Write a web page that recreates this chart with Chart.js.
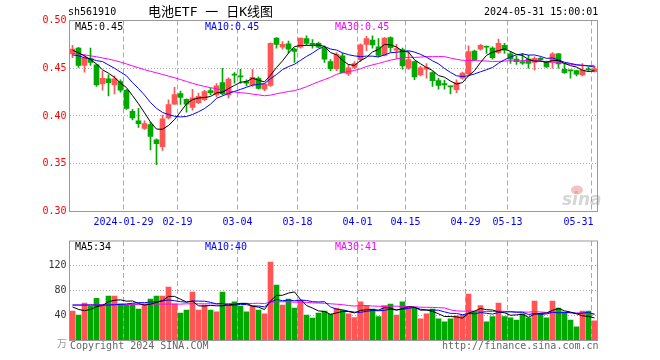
<!DOCTYPE html>
<html>
<head>
<meta charset="utf-8">
<script src="https://cdn.jsdelivr.net/npm/chart.js@4.4.1/dist/chart.umd.min.js"></script>
<style>
body { margin: 0; background: #fff; }
#wrap { position: relative; width: 660px; height: 360px; overflow: hidden; font-family: "DejaVu Sans Mono", monospace; font-size: 10px; }
canvas { position: absolute; left: 0; }
.t { position: absolute; white-space: pre; line-height: 12px; }
</style>
</head>
<body>
<div id="wrap">
  <canvas id="kChart" width="660" height="232" style="top:0"></canvas>
  <canvas id="volChart" width="660" height="128" style="top:232px"></canvas>

  <div class="t" style="left:68px;top:6px;color:#000">sh561910</div>
  <div class="t" style="left:148px;top:4px;font-size:13px;line-height:16px;font-family:'DejaVu Sans Mono','Noto Sans CJK SC'">电池ETF 一 日K线图</div>
  <div class="t" style="left:484px;top:6px;color:#000">2024-05-31 15:00:01</div>

  <div class="t" style="left:75px;top:21px;color:#000">MA5:0.45</div>
  <div class="t" style="left:205px;top:21px;color:#0000ff">MA10:0.45</div>
  <div class="t" style="left:335px;top:21px;color:#ff00ff">MA30:0.45</div>

  <div class="t" style="left:75px;top:241px;color:#000">MA5:34</div>
  <div class="t" style="left:205px;top:241px;color:#0000ff">MA10:40</div>
  <div class="t" style="left:335px;top:241px;color:#ff00ff">MA30:41</div>

  <div class="t" style="left:57px;top:337px;color:#999;font-family:'Noto Sans CJK SC'">万</div>
  <div class="t" style="left:70px;top:340px;color:#666">Copyright 2024 SINA.COM</div>
  <div class="t" style="left:442px;top:340px;color:#666">http://finance.sina.com.cn</div>
</div>

<script>
// trading days shown (2024)
const dates = [
  '2024-01-16','2024-01-17','2024-01-18','2024-01-19','2024-01-22','2024-01-23','2024-01-24','2024-01-25','2024-01-26','2024-01-29','2024-01-30','2024-01-31',
  '2024-02-01','2024-02-02','2024-02-05','2024-02-06','2024-02-07','2024-02-08','2024-02-19','2024-02-20','2024-02-21','2024-02-22','2024-02-23','2024-02-26','2024-02-27','2024-02-28','2024-02-29',
  '2024-03-01','2024-03-04','2024-03-05','2024-03-06','2024-03-07','2024-03-08','2024-03-11','2024-03-12','2024-03-13','2024-03-14','2024-03-15','2024-03-18','2024-03-19','2024-03-20','2024-03-21','2024-03-22','2024-03-25','2024-03-26','2024-03-27','2024-03-28','2024-03-29',
  '2024-04-01','2024-04-02','2024-04-03','2024-04-08','2024-04-09','2024-04-10','2024-04-11','2024-04-12','2024-04-15','2024-04-16','2024-04-17','2024-04-18','2024-04-19','2024-04-22','2024-04-23','2024-04-24','2024-04-25','2024-04-26','2024-04-29','2024-04-30',
  '2024-05-06','2024-05-07','2024-05-08','2024-05-09','2024-05-10','2024-05-13','2024-05-14','2024-05-15','2024-05-16','2024-05-17','2024-05-20','2024-05-21','2024-05-22','2024-05-23','2024-05-24','2024-05-27','2024-05-28','2024-05-29','2024-05-30','2024-05-31'
];

const opens = [
  0.465,0.471,0.453,0.460,0.4535,0.4335,0.439,0.4325,0.436,0.427,
  0.405,0.395,0.387,0.391,0.375,0.368,0.398,0.4125,0.4235,0.4175,
  0.409,0.414,0.417,0.4265,0.422,0.435,0.422,0.4432,0.4415,0.436,
  0.4325,0.4395,0.428,0.432,0.4815,0.472,0.4755,0.470,0.472,0.481,
  0.4757,0.476,0.471,0.457,0.4495,0.463,0.444,0.451,0.459,0.475,
  0.4795,0.4725,0.4635,0.482,0.469,0.4695,0.450,0.457,0.443,0.449,
  0.4455,0.437,0.434,0.431,0.4275,0.4395,0.444,0.468,0.470,0.473,
  0.471,0.4665,0.474,0.465,0.4595,0.457,0.4595,0.456,0.4605,0.457,
  0.456,0.465,0.449,0.4478,0.4475,0.443,0.4492,0.4465
];
const highs = [
  0.474,0.472,0.464,0.471,0.454,0.447,0.443,0.442,0.438,0.428,
  0.407,0.408,0.395,0.3935,0.376,0.401,0.417,0.430,0.426,0.418,
  0.428,0.424,0.427,0.429,0.434,0.450,0.440,0.4455,0.449,0.4378,
  0.449,0.441,0.434,0.4765,0.482,0.478,0.4785,0.471,0.4815,0.484,
  0.480,0.4775,0.4735,0.459,0.4665,0.4655,0.454,0.457,0.4755,0.4835,
  0.484,0.481,0.482,0.483,0.475,0.471,0.4675,0.4575,0.452,0.455,
  0.4465,0.4395,0.4375,0.4312,0.438,0.446,0.4735,0.469,0.475,0.4735,
  0.4725,0.4805,0.476,0.4675,0.4625,0.4655,0.4635,0.462,0.4615,0.4575,
  0.4665,0.4655,0.455,0.448,0.448,0.455,0.4515,0.452
];
const lows = [
  0.461,0.451,0.446,0.453,0.431,0.427,0.421,0.423,0.425,0.407,
  0.396,0.388,0.386,0.3645,0.349,0.364,0.397,0.412,0.412,0.404,
  0.406,0.413,0.416,0.422,0.420,0.422,0.419,0.4345,0.434,0.4315,
  0.431,0.428,0.4265,0.431,0.471,0.470,0.466,0.456,0.471,0.4745,
  0.471,0.4715,0.456,0.4475,0.4475,0.445,0.4425,0.4495,0.457,0.4685,
  0.471,0.462,0.463,0.467,0.460,0.449,0.449,0.438,0.442,0.4395,
  0.431,0.428,0.428,0.423,0.4245,0.4385,0.443,0.458,0.469,0.4655,
  0.4595,0.4655,0.4655,0.455,0.454,0.454,0.450,0.448,0.4575,0.451,
  0.450,0.450,0.4445,0.4395,0.442,0.442,0.4465,0.446
];
const closes = [
  0.470,0.453,0.461,0.456,0.4325,0.4395,0.435,0.439,0.427,0.408,
  0.398,0.392,0.392,0.3785,0.371,0.397,0.412,0.4225,0.4195,0.4125,
  0.419,0.4205,0.4255,0.4245,0.4315,0.423,0.4386,0.4428,0.441,0.4345,
  0.4405,0.429,0.4335,0.476,0.475,0.475,0.470,0.4675,0.4815,0.476,
  0.475,0.4722,0.4595,0.4495,0.4645,0.4455,0.4505,0.455,0.4745,0.481,
  0.4745,0.4635,0.4815,0.4715,0.4705,0.4525,0.459,0.441,0.4505,0.451,
  0.437,0.432,0.4325,0.4305,0.435,0.445,0.4675,0.459,0.474,0.472,
  0.461,0.476,0.469,0.4595,0.457,0.4553,0.455,0.4605,0.459,0.4515,
  0.465,0.4545,0.4455,0.4473,0.4438,0.448,0.4484,0.4495
];
// volume (万手)
const volumes = [
  47.5,41,60,55.5,68,57,71.5,71.5,59,57,
  59,50.7,59,66.7,71.5,71.5,86,59,44,49,
  78,49,57,49,46,78,57,62,55.5,46,
  55.5,49,42.7,126,89,57,66.7,52,65,41,
  36,44,47.5,42,52,48.6,42.7,36.8,62,56.6,
  50.7,38.4,56,58.7,41,62,54,52,34.7,42.7,
  50.7,34.7,30,34.7,39.5,41,74.7,46,56,30,
  38.4,60,38.4,36.3,33,42.7,36.3,63.5,42.7,36.3,
  63.5,52,44,33,22,47.5,47.5,31.5
];

// moving-average values before enough days are in view
const ma5Head = [0.469,0.466,0.463,0.459];
const ma10Head = [0.464,0.463,0.461,0.460,0.458,0.457,0.4535,0.450,0.446];
const ma30Head = [0.4655,0.4648,0.4640,0.4630,0.4620,0.4608,0.4596,0.4582,0.4565,0.4545,
                  0.4525,0.4505,0.4485,0.4468,0.4452,0.4435,0.4418,0.4400,0.4382,0.4362,
                  0.4342,0.4325,0.4310,0.4297,0.4285,0.4272,0.4262,0.4252,0.4244];
const vma5Head = [54,50,48,50];
const vma10Head = [57,57,57,57,57,57,57,57.5,58];
const vma30Head = [57,57,57,57.5,57.5,57.5,57.5,58,58,58,58,58,58,58.5,58.5,58.5,58.5,58.5,58.5,59,59,59,59,59,59,59,59.5,59.5,59.5];

// x axis labels
const tickDates = ['2024-01-29','2024-02-19','2024-03-04','2024-03-18','2024-04-01','2024-04-15','2024-04-29','2024-05-13','2024-05-31'];
const tickText = ['2024-01-29','02-19','03-04','03-18','04-01','04-15','04-29','05-13','05-31'];

const priceTicks = [0.30, 0.35, 0.40, 0.45, 0.50];
const volTicks = [40, 80, 120];

const RED = '#ff5555';
const GREEN = '#00a800';
const GRID = '#aaaaaa';
const FONT = '"DejaVu Sans Mono", monospace';

function movingAvg(values, n, head) {
    return values.map((v, i) => {
        if (i < n - 1) return head[i];
        let sum = 0;
        for (let k = i - n + 1; k <= i; k++) sum += values[k];
        return sum / n;
    });
}

const candleColor = closes.map((c, i) => c >= opens[i] ? RED : GREEN);
const tickIdx = new Set(tickDates.map(d => dates.indexOf(d)));

// Frame round the plot area
const framePlugin = {
    id: 'frame',
    afterDatasetsDraw(chart) {
        const a = chart.chartArea, c = chart.ctx;
        c.save();
        c.strokeStyle = '#999';
        c.lineWidth = 1;
        c.strokeRect(a.left, a.top, a.right - a.left, a.bottom - a.top);
        c.restore();
    }
};

// Date labels under the K line panel
const dateLabelPlugin = {
    id: 'dateLabels',
    afterDraw(chart) {
        const xs = chart.scales.x, c = chart.ctx;
        const half = (xs.right - xs.left) / dates.length / 2;
        c.save();
        c.font = '10px ' + FONT;
        c.fillStyle = '#0000ff';
        c.textBaseline = 'middle';
        tickDates.forEach((d, k) => {
            const x = xs.getPixelForValue(dates.indexOf(d)) - half;
            const last = k === tickDates.length - 1;
            c.textAlign = last ? 'right' : 'center';
            c.fillText(tickText[k], last ? x + 2 : x, 222);
        });
        // sina watermark
        c.globalAlpha = 0.35;
        c.fillStyle = '#e05050';
        c.beginPath();
        c.ellipse(577, 190, 6, 4.5, 0, 0, Math.PI * 2);
        c.fill();
        c.fillStyle = '#888';
        c.font = 'italic bold 17px "DejaVu Sans"';
        c.textAlign = 'left';
        c.fillText('sina', 562, 201);
        c.restore();
    }
};

function xAxis(height) {
    return {
        offset: true,
        ticks: { display: false },
        grid: {
            offset: true,
            drawTicks: false,
            lineWidth: 1,
            color: ctx => tickIdx.has(ctx.index) ? GRID : 'transparent'
        },
        border: { display: false, dash: [5, 3] },
        afterFit: s => { s.height = height; }
    };
}

function lineSet(data, color) {
    return { type: 'line', data: data, borderColor: color, borderWidth: 1, pointRadius: 0, tension: 0, order: 0 };
}

// K line chart
new Chart(document.getElementById('kChart'), {
    type: 'bar',
    data: {
        labels: dates,
        datasets: [
            lineSet(movingAvg(closes, 5, ma5Head), '#000000'),
            lineSet(movingAvg(closes, 10, ma10Head), '#0000ff'),
            lineSet(movingAvg(closes, 30, ma30Head), '#ff00ff'),
            {
                data: dates.map((d, i) => [opens[i], closes[i]]),
                backgroundColor: candleColor,
                barThickness: 5, minBarLength: 1, grouped: false, order: 1
            },
            {
                data: dates.map((d, i) => [lows[i], highs[i]]),
                backgroundColor: candleColor,
                barThickness: 1, grouped: false, order: 2
            }
        ]
    },
    options: {
        responsive: false,
        animation: false,
        devicePixelRatio: 1,
        layout: { padding: { top: 20.5, right: 62.5, left: 0, bottom: 0 } },
        plugins: { legend: { display: false }, tooltip: { enabled: false } },
        scales: {
            x: xAxis(20.5),
            y: {
                min: 0.30, max: 0.50,
                afterBuildTicks: s => { s.ticks = priceTicks.map(v => ({ value: v })); },
                ticks: { color: '#ff0000', font: { family: FONT, size: 10 }, padding: 3, callback: v => Number(v).toFixed(2) },
                grid: { drawTicks: false, color: ctx => (ctx.tick && ctx.tick.value > 0.301 && ctx.tick.value < 0.499) ? GRID : 'transparent' },
                border: { display: false, dash: [1, 2] },
                afterFit: s => { s.width = 69.5; }
            }
        }
    },
    plugins: [framePlugin, dateLabelPlugin]
});

// Volume chart
new Chart(document.getElementById('volChart'), {
    type: 'bar',
    data: {
        labels: dates,
        datasets: [
            lineSet(movingAvg(volumes, 5, vma5Head), '#000000'),
            lineSet(movingAvg(volumes, 10, vma10Head), '#0000ff'),
            lineSet(movingAvg(volumes, 30, vma30Head), '#ff00ff'),
            {
                data: volumes,
                backgroundColor: candleColor,
                barThickness: 5, grouped: false, order: 1
            }
        ]
    },
    options: {
        responsive: false,
        animation: false,
        devicePixelRatio: 1,
        layout: { padding: { top: 8.5, right: 62.5, left: 0, bottom: 0 } },
        plugins: { legend: { display: false }, tooltip: { enabled: false } },
        scales: {
            x: xAxis(19.5),
            y: {
                min: 0, max: 160,
                afterBuildTicks: s => { s.ticks = volTicks.map(v => ({ value: v })); },
                ticks: { color: '#333', font: { family: FONT, size: 10 }, padding: 3 },
                grid: { drawTicks: false, color: GRID },
                border: { display: false, dash: [1, 2] },
                afterFit: s => { s.width = 69.5; }
            }
        }
    },
    plugins: [framePlugin]
});
</script>
</body>
</html>
